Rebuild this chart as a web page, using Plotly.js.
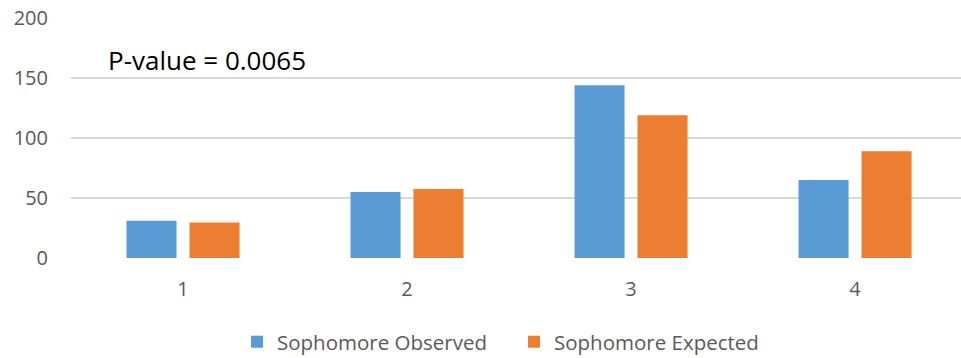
<!DOCTYPE html>
<html>
<head>
<meta charset="utf-8">
<script src="https://cdn.plot.ly/plotly-3.0.1.min.js"></script>
<style>
  html, body { margin: 0; padding: 0; background: #fff; }
  #chart { width: 961px; height: 358px; }
</style>
</head>
<body>
<div id="chart"></div>
<script>
// Sophomore counts per response category
const categories = ['1', '2', '3', '4'];
const observed = [31, 55, 144, 65];
const expected = [29.5, 57.5, 119, 89];
const yTicks = [0, 50, 100, 150, 200];
const seriesNames = ['Sophomore Observed', 'Sophomore Expected'];
const pValueLabel = 'P-value = 0.0065';

const FONT = '"Open Sans", "DejaVu Sans", sans-serif';
const TICK_GREY = '#595959';

const traces = [
  {
    type: 'bar',
    name: seriesNames[0],
    x: categories,
    y: observed,
    marker: { color: '#5B9BD5' },
    hoverinfo: 'skip'
  },
  {
    type: 'bar',
    name: seriesNames[1],
    x: categories,
    y: expected,
    marker: { color: '#ED7D31' },
    hoverinfo: 'skip'
  }
];

const layout = {
  width: 961,
  height: 358,
  margin: { l: 71, r: 0, t: 18, b: 100 },
  paper_bgcolor: '#ffffff',
  plot_bgcolor: '#ffffff',
  font: { family: FONT, color: TICK_GREY },
  barmode: 'group',
  bargap: 0.4375,
  bargroupgap: 0.206,
  showlegend: true,
  legend: {
    orientation: 'h',
    xref: 'container',
    yref: 'container',
    x: 0.2466,
    xanchor: 'left',
    y: 0.045,
    yanchor: 'middle',
    font: { family: FONT, size: 20.5, color: TICK_GREY },
    itemwidth: 30,
    entrywidth: 232,
    entrywidthmode: 'pixels',
    tracegroupgap: 0
  },
  xaxis: {
    type: 'category',
    range: [-0.5, 3.473],
    showgrid: false,
    zeroline: false,
    showline: false,
    ticks: '',
    ticklabelstandoff: 17,
    tickfont: { family: FONT, size: 20, color: TICK_GREY }
  },
  yaxis: {
    range: [0, 200],
    tickvals: yTicks,
    ticktext: yTicks.map(String),
    showgrid: true,
    gridcolor: '#d9d9d9',
    gridwidth: 1.5,
    zeroline: false,
    showline: false,
    ticks: '',
    ticklabelstandoff: 22,
    tickfont: { family: FONT, size: 20, color: TICK_GREY }
  },
  annotations: [
    {
      text: pValueLabel,
      xref: 'paper',
      yref: 'paper',
      x: 0.0395,
      y: 0.824,
      xanchor: 'left',
      yanchor: 'middle',
      showarrow: false,
      font: { family: FONT, size: 26, color: '#000000' }
    }
  ]
};

Plotly.newPlot('chart', traces, layout, { displayModeBar: false, staticPlot: true });
</script>
</body>
</html>
